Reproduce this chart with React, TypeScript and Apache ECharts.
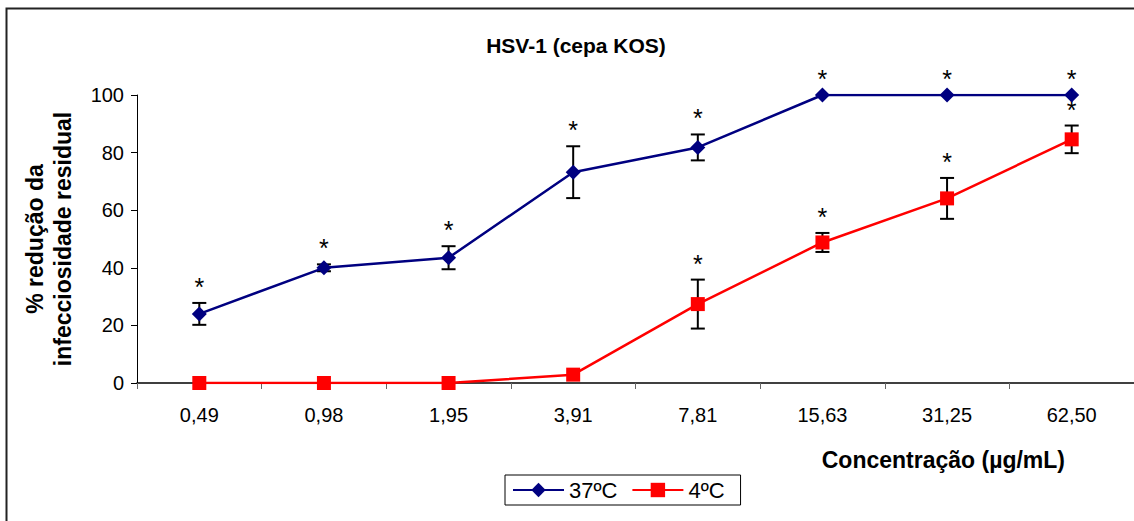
import React, { useEffect, useRef } from "react";
import * as echarts from "echarts";

const categories = ["0,49", "0,98", "1,95", "3,91", "7,81", "15,63", "31,25", "62,50"];
const yTicks = [0, 20, 40, 60, 80, 100];

const values37 = [24, 40, 43.5, 73.2, 81.8, 100, 100, 100];
const err37 = [3.8, 1.2, 4, 9, 4.5, 0, 0, 0];
const stars37 = [1, 1, 1, 1, 1, 1, 1, 1];

const values4 = [0, 0, 0, 2.9, 27.4, 48.8, 64.1, 84.6];
const err4 = [0, 0, 0, 0, 8.5, 3.3, 7.1, 4.8];
const stars4 = [0, 0, 0, 0, 1, 1, 1, 1];

const FONT = "'Liberation Sans', Arial, sans-serif";

function errData(vals: number[], errs: number[], stars: number[]) {
  return vals.map((v, i) => [i, v - errs[i], v + errs[i], stars[i]]);
}

function renderErr(params: any, api: any) {
  const low = api.value(1);
  const high = api.value(2);
  const star = api.value(3);
  const i = api.value(0);
  const top = api.coord([i, high]);
  const bot = api.coord([i, low]);
  const children: any[] = [];
  const st = { stroke: "#000", lineWidth: 2 };
  if (high > low) {
    children.push({ type: "line", shape: { x1: top[0], y1: top[1], x2: bot[0], y2: bot[1] }, style: st });
    children.push({ type: "line", shape: { x1: top[0] - 7, y1: top[1], x2: top[0] + 7, y2: top[1] }, style: st });
    children.push({ type: "line", shape: { x1: bot[0] - 7, y1: bot[1], x2: bot[0] + 7, y2: bot[1] }, style: st });
  }
  if (star) {
    children.push({
      type: "text",
      x: top[0],
      y: top[1] - 16,
      style: { text: "*", fontSize: 25, fontFamily: FONT, fill: "#000", align: "center", verticalAlign: "middle" },
    });
  }
  return { type: "group", children };
}

export default function App() {
  const ref = useRef<HTMLDivElement>(null);
  useEffect(() => {
    if (!ref.current) return;
    const chart = echarts.init(ref.current, null, { renderer: "svg" });
    chart.setOption({
      animation: false,
      backgroundColor: "#fff",
      title: {
        text: "HSV-1 (cepa KOS)",
        left: 571,
        textAlign: "center",
        top: 30,
        textStyle: { fontFamily: FONT, fontSize: 21, fontWeight: "bold", color: "#000" },
      },
      legend: {
        data: ["37ºC", "4ºC"],
        left: 505,
        top: 475,
        itemWidth: 51,
        itemHeight: 18,
        itemGap: 14,
        padding: [4, 16, 4, 7],
        borderColor: "#000",
        borderWidth: 1,
        textStyle: { fontFamily: FONT, fontSize: 22, color: "#000" },
      },
      graphic: [
        {
          type: "rect",
          shape: { x: 6.5, y: 8.5, width: 1140, height: 530 },
          style: { fill: "none", stroke: "#222", lineWidth: 2 },
          silent: true,
          z: -1,
        },
      ],
      grid: { left: 137, right: 0, top: 95, bottom: 138, containLabel: false },
      xAxis: {
        type: "category",
        data: categories,
        boundaryGap: true,
        name: "Concentração (µg/mL)",
        nameLocation: "end",
        nameGap: -69,
        nameTextStyle: {
          fontFamily: FONT,
          fontSize: 23,
          fontWeight: "bold",
          color: "#000",
          align: "right",
          verticalAlign: "top",
          padding: [65, 0, 0, 0],
        },
        axisLine: { lineStyle: { color: "#000", width: 1.5 } },
        axisTick: { show: true, length: 6, inside: false, lineStyle: { color: "#666" } },
        axisLabel: { fontFamily: FONT, fontSize: 20, color: "#000", margin: 22 },
      },
      yAxis: {
        type: "value",
        min: 0,
        max: 100,
        interval: 20,
        name: "% redução da\ninfecciosidade residual",
        nameLocation: "middle",
        nameGap: 60,
        nameTextStyle: { fontFamily: FONT, fontSize: 23, fontWeight: "bold", color: "#000", lineHeight: 28 },
        axisLine: { show: true, lineStyle: { color: "#000", width: 1 } },
        axisTick: { show: true, length: 6, lineStyle: { color: "#000" } },
        splitLine: { show: false },
        axisLabel: {
          fontFamily: FONT,
          fontSize: 20,
          color: "#000",
          margin: 13,
          formatter: (v: number) => (yTicks.includes(v) ? String(v) : ""),
        },
      },
      series: [
        {
          name: "37ºC",
          type: "line",
          data: values37,
          symbol: "diamond",
          symbolSize: 15,
          itemStyle: { color: "#000080" },
          lineStyle: { color: "#000080", width: 2.5 },
          z: 3,
        },
        {
          name: "4ºC",
          type: "line",
          data: values4,
          symbol: "rect",
          symbolSize: 14,
          itemStyle: { color: "#ff0000" },
          lineStyle: { color: "#ff0000", width: 2.5 },
          z: 3,
        },
        {
          type: "custom",
          name: "err37",
          data: errData(values37, err37, stars37),
          renderItem: renderErr,
          clip: false,
          z: 2,
          silent: true,
        },
        {
          type: "custom",
          name: "err4",
          data: errData(values4, err4, stars4),
          renderItem: renderErr,
          clip: false,
          z: 2,
          silent: true,
        },
      ],
    });
    return () => chart.dispose();
  }, []);
  return (
    <div
      ref={ref}
      style={{ position: "fixed", left: 0, top: 0, width: 1134, height: 521 }}
    />
  );
}
